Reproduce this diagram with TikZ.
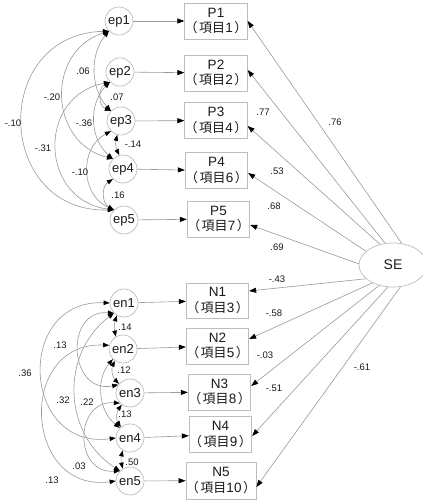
\documentclass[tikz,border=0pt]{standalone}
\usepackage{fontspec}
\setmainfont{Liberation Sans}
\newfontfamily\cjk{Noto Sans CJK JP}
\usetikzlibrary{arrows.meta,shapes.geometric}

\definecolor{linegray}{HTML}{9A9A9A}
\definecolor{boxgray}{HTML}{BDBDBD}
\definecolor{inkgray}{HTML}{1A1A1A}

% two-line item label: code on top, item number in parentheses below
\newcommand\itemtext[2]{#1\\{\cjk\fontsize{13}{15.5}\selectfont （\kern1.5pt 項目}#2{\cjk\fontsize{13}{15.5}\selectfont \kern1.5pt ）}}

\tikzset{
  err/.style={circle, draw=boxgray, line width=0.7pt, minimum size=28pt, inner sep=0pt,
    font=\fontsize{13}{13}\selectfont, text=inkgray},
  item/.style={rectangle, draw=boxgray, line width=0.8pt, minimum width=56pt, minimum height=36pt,
    inner sep=0pt, align=center, font=\fontsize{13.5}{15.5}\selectfont, text=inkgray},
  latent/.style={ellipse, draw=boxgray, line width=0.7pt, minimum width=68pt, minimum height=44pt,
    inner sep=0pt, font=\fontsize{14}{14}\selectfont, text=inkgray},
  reg/.style={draw=linegray, line width=0.6pt, -{Triangle[length=7pt,width=5pt,color=black]}},
  cov/.style={draw=linegray, line width=0.6pt,
    {Triangle[length=6pt,width=4.5pt,color=black]}-{Triangle[length=6pt,width=4.5pt,color=black]}},
  coef/.style={font=\fontsize{9.5}{9.5}\selectfont, text=inkgray, inner sep=0pt},
}

\begin{document}
\begin{tikzpicture}[x=1pt,y=1pt]
\useasboundingbox (0,0) rectangle (422,-502);
\fill[white] (0,0) rectangle (422,-502);

% latent factor
\node[latent] (SE) at (393,-265) {SE};

% positive items
\node[err] (ep1) at (119,-21) {ep1};
\node[err] (ep2) at (120,-72) {ep2};
\node[err] (ep3) at (121,-121) {ep3};
\node[err] (ep4) at (123,-169) {ep4};
\node[err] (ep5) at (124,-220) {ep5};
\node[item] (P1) at (216,-21) {\itemtext{P1}{1}};
\node[item] (P2) at (216,-73) {\itemtext{P2}{2}};
\node[item] (P3) at (216,-120.5) {\itemtext{P3}{4}};
\node[item, minimum width=57pt] (P4) at (216.5,-170.5) {\itemtext{P4}{6}};
\node[item, minimum width=55pt] (P5) at (218.5,-219) {\itemtext{P5}{7}};

% negative items
\node[err] (en1) at (124,-303) {en1};
\node[err] (en2) at (123,-349) {en2};
\node[err] (en3) at (130,-393) {en3};
\node[err] (en4) at (130,-438) {en4};
\node[err] (en5) at (130,-481) {en5};
\node[item, minimum width=55pt, minimum height=35pt] (N1) at (217.5,-300.5) {\itemtext{N1}{3}};
\node[item, minimum width=55pt] (N2) at (217.5,-346) {\itemtext{N2}{5}};
\node[item, minimum width=55pt] (N3) at (219.5,-392) {\itemtext{N3}{8}};
\node[item, minimum width=55pt] (N4) at (220.5,-434.5) {\itemtext{N4}{9}};
\node[item, minimum height=37pt] (N5) at (221,-480.5) {\itemtext{N5}{10}};

% error terms to items
\foreach \e/\i in {ep1/P1,ep2/P2,ep3/P3,ep4/P4,ep5/P5,en1/N1,en2/N2,en3/N3,en4/N4,en5/N5}
  \draw[reg] (\e) -- (\i);

% factor loadings
\draw[reg] (SE.68)  -- (P1.east);
\draw[reg] (SE.110) -- ([yshift=3pt]P2.east);
\draw[reg] (SE.122) -- ([yshift=-5.5pt]P3.east);
\draw[reg] (SE.153) -- ([yshift=-2.5pt]P4.east);
\draw[reg] (SE.178) -- ([yshift=-6pt]P5.east);
\draw[reg] (SE.207) -- ([yshift=9.5pt]N1.east);
\draw[reg] (SE.221) -- ([yshift=7pt]N2.east);
\draw[reg] (SE.236) -- ([yshift=6pt]N3.east);
\draw[reg] (SE.257) -- ([yshift=-1.5pt]N4.east);
\draw[reg] (SE.289) -- ([yshift=-6.5pt]N5.east);

% error covariances, positive items
\draw[cov] (ep1.225) to[bend right=90, looseness=1.7]  (ep5.135);
\draw[cov] (ep1.225) to[bend right=74, looseness=1.33] (ep4.135);
\draw[cov] (ep1.225) to[bend right=41, looseness=0.97] (ep3.135);
\draw[cov] (ep2.225) to[bend right=81, looseness=1.5]  (ep5.135);
\draw[cov] (ep2.225) to[bend right=47, looseness=1.02] (ep4.135);
\draw[cov] (ep2.225) to[bend right=67, looseness=1.2]  (ep3.135);
\draw[cov] (ep3.225) to[bend right=64, looseness=1.18] (ep5.135);
\draw[cov] (ep3.255) to[bend right=20] (ep4.105);
\draw[cov] (ep4.225) to[bend right=60, looseness=1.13] (ep5.135);

% error covariances, negative items
\draw[cov] (en1.west) to[bend right=95, looseness=1.8]  (en4.west);
\draw[cov] (en2.165)  to[bend right=95, looseness=1.75] (en5.west);
\draw[cov] (en1.225)  to[bend right=98, looseness=1.8]  (en3.145);
\draw[cov] (en1.225)  to[bend right=55, looseness=1.1]  (en5.135);
\draw[cov] (en2.225)  to[bend right=46, looseness=1.0]  (en4.135);
\draw[cov] (en3.225)  to[bend right=94, looseness=1.75] (en5.135);
\draw[cov] (en1.240)  to[bend right=15] (en2.120);
\draw[cov] (en2.235)  to[bend right=35] (en3.140);
\draw[cov] (en3.235)  to[bend right=35] (en4.130);
\draw[cov] (en4.240)  to[bend right=15] (en5.120);

% loading estimates
\node[coef] (lP1) at (335,-122) {.76};
\node[coef] (lP2) at (263,-112) {.77};
\node[coef] (lP3) at (277,-171) {.53};
\node[coef] (lP4) at (274,-206) {.68};
\node[coef] (lP5) at (277,-247) {.69};
\node[coef] (lN1) at (277,-279) {-.43};
\node[coef] (lN2) at (274,-313) {-.58};
\node[coef] (lN3) at (265,-355) {-.03};
\node[coef] (lN4) at (274,-388) {-.51};
\node[coef] (lN5) at (362,-367) {-.61};

% covariance estimates, positive items
\node[coef] (c13) at (83,-71)  {.06};
\node[coef] (c14) at (52,-97)  {-.20};
\node[coef] (c23) at (117,-97) {.07};
\node[coef] (c24) at (84,-123) {-.36};
\node[coef] (c15) at (13,-123) {-.10};
\node[coef] (c34) at (133,-144) {-.14};
\node[coef] (c25) at (43,-148) {-.31};
\node[coef] (c35) at (80,-172) {-.10};
\node[coef] (c45) at (118,-195) {.16};

% covariance estimates, negative items
\node[coef] (d12) at (125,-327) {.14};
\node[coef] (d13) at (60,-345)  {.13};
\node[coef] (d14) at (25,-373)  {.36};
\node[coef] (d23) at (124,-370) {.12};
\node[coef] (d15) at (63,-400)  {.32};
\node[coef] (d24) at (87,-402)  {.22};
\node[coef] (d34) at (125,-414) {.13};
\node[coef] (d35) at (79,-466)  {.03};
\node[coef] (d45) at (132,-462) {.50};
\node[coef] (d25) at (52,-480)  {.13};
\end{tikzpicture}
\end{document}
